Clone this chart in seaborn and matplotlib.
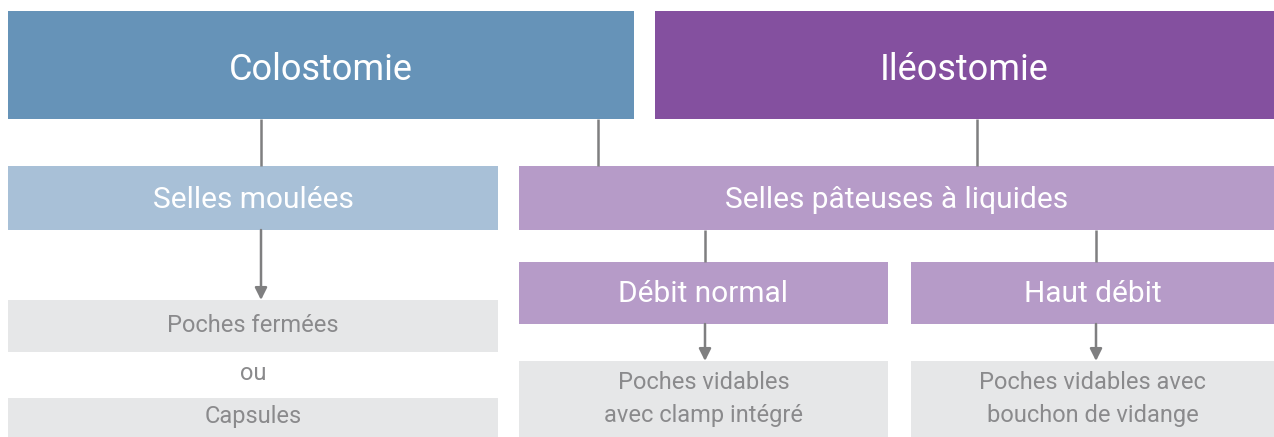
import seaborn as sns
import matplotlib
matplotlib.use('Agg')
import matplotlib.pyplot as plt
from matplotlib.patches import Rectangle

# node texts
top_labels = ["Colostomie", "Iléostomie"]
stool_labels = ["Selles moulées", "Selles pâteuses à liquides"]
flow_labels = ["Débit normal", "Haut débit"]
pouch_labels = ["Poches fermées", "Capsules",
                "Poches vidables\navec clamp intégré",
                "Poches vidables avec\nbouchon de vidange"]
or_label = "ou"

# layout (pixel boxes: x0, y0, x1, y1)
W, H = 1274, 437
top_boxes = [(8, 11, 634, 119), (655, 11, 1274, 119)]
stool_boxes = [(8, 166, 498, 230), (519, 166, 1274, 230)]
flow_boxes = [(519, 262, 888, 324), (911, 262, 1274, 324)]
pouch_boxes = [(8, 300, 498, 352), (8, 398, 498, 437),
               (519, 361, 888, 437), (911, 361, 1274, 437)]
or_pos = (253, 374)

top_colors = ["#6693b8", "#84509f"]
stool_colors = ["#a8c0d7", "#b69bc8"]
flow_color = "#b69bc8"
pouch_color = "#e6e7e8"
pouch_text = "#8a8a8c"
line_color = "#7f7f80"

# connectors: x, y_start, y_end, arrow
links = [(261, 119, 166, False), (598, 119, 166, False), (977, 119, 166, False),
         (261, 230, 300, True), (705, 230, 262, False), (1096, 230, 262, False),
         (705, 324, 361, True), (1096, 324, 361, True)]

sns.set_theme(style="white")
plt.rcParams['font.family'] = ['Roboto', 'Liberation Sans', 'DejaVu Sans']

fig = plt.figure(figsize=(W / 100, H / 100), dpi=100)
ax = fig.add_axes([0, 0, 1, 1])
ax.set_xlim(0, W)
ax.set_ylim(H, 0)
ax.axis('off')


def box(b, color, text, size, tcolor, dy=0, ls=1.15):
    x0, y0, x1, y1 = b
    ax.add_patch(Rectangle((x0, y0), x1 - x0, y1 - y0, facecolor=color,
                           edgecolor='none', zorder=1))
    ax.text((x0 + x1) / 2, (y0 + y1) / 2 + dy, text, ha='center', va='center',
            fontsize=size, color=tcolor, linespacing=ls, zorder=3)


for b, c, t in zip(top_boxes, top_colors, top_labels):
    box(b, c, t, 26, 'white', dy=5)
for b, c, t in zip(stool_boxes, stool_colors, stool_labels):
    box(b, c, t, 21.5, 'white', dy=2)
for b, t in zip(flow_boxes, flow_labels):
    box(b, flow_color, t, 21.5, 'white', dy=1)
for i, (b, t) in enumerate(zip(pouch_boxes, pouch_labels)):
    box(b, pouch_color, t, 17, pouch_text, dy=(-1 if i < 2 else 0), ls=1.6)
ax.text(or_pos[0], or_pos[1], or_label, ha='center', va='center',
        fontsize=17, color=pouch_text)

for x, ya, yb, arrow in links:
    if arrow:
        ax.annotate("", xy=(x, yb), xytext=(x, ya),
                    arrowprops=dict(arrowstyle='-|>', color=line_color, lw=1.8,
                                    mutation_scale=18, shrinkA=0, shrinkB=0),
                    zorder=2)
    else:
        ax.plot([x, x], [ya, yb], color=line_color, lw=1.8, zorder=2,
                solid_capstyle='butt')

fig.savefig("out.png", dpi=100)
